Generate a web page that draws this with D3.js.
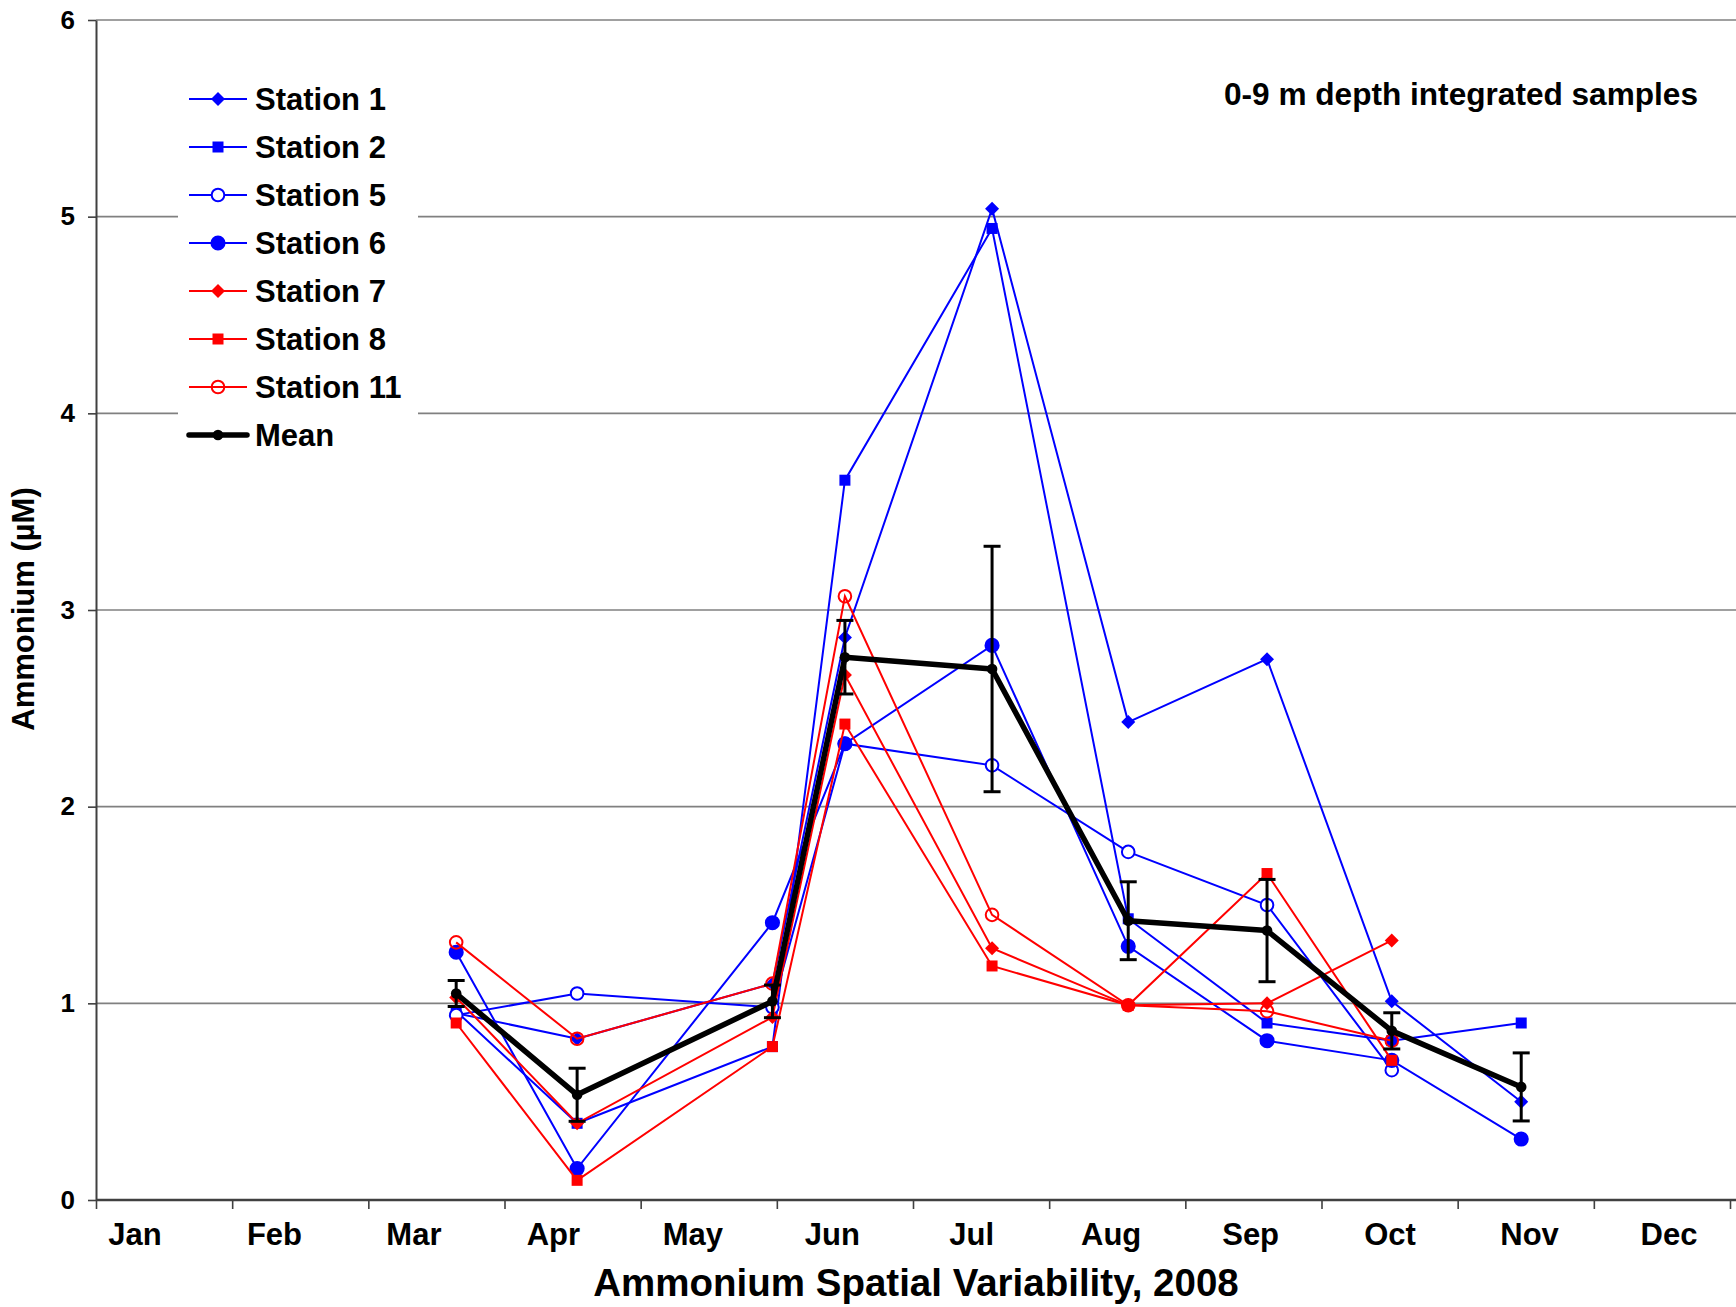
<!DOCTYPE html>
<html>
<head>
<meta charset="utf-8">
<script src="https://cdn.jsdelivr.net/npm/d3@7"></script>
<style>
  html, body { margin: 0; padding: 0; background: #ffffff; }
  svg text { font-family: "Liberation Sans", Arial, Helvetica, sans-serif; font-weight: bold; fill: #000000; }
</style>
</head>
<body>
<svg id="chart" width="1736" height="1307"></svg>
<script>
// ---- Data -------------------------------------------------------------
const monthNames = ["Jan", "Feb", "Mar", "Apr", "May", "Jun", "Jul", "Aug", "Sep", "Oct", "Nov", "Dec"];
const yTicks = [0, 1, 2, 3, 4, 5, 6];

// sampling dates, 2008
const sampleDates = ["2008-03-21", "2008-04-17", "2008-05-31", "2008-06-16", "2008-07-19",
                     "2008-08-19", "2008-09-19", "2008-10-17", "2008-11-15"];

// ammonium (µM), 0-9 m depth integrated
const station1  = [0.95, 0.82, 1.10, 2.86, 5.04, 2.43, 2.75, 1.01, 0.50];
const station2  = [0.96, 0.39, 0.78, 3.66, 4.94, 1.43, 0.90, 0.81, 0.90];
const station5  = [0.94, 1.05, 0.98, 2.32, 2.21, 1.77, 1.50, 0.66, null];
const station6  = [1.26, 0.16, 1.41, 2.32, 2.82, 1.29, 0.81, 0.71, 0.31];
const station7  = [1.03, 0.39, 0.93, 2.67, 1.28, 0.99, 1.00, 1.32, null];
const station8  = [0.90, 0.10, 0.78, 2.42, 1.19, 0.99, 1.66, 0.71, null];
const station11 = [1.31, 0.82, 1.10, 3.07, 1.45, 0.99, 0.96, 0.81, null];
const meanValues = [1.05, 0.535, 1.01, 2.76, 2.70, 1.42, 1.37, 0.86, 0.575];
const meanErrors = [0.066, 0.135, 0.083, 0.187, 0.624, 0.198, 0.26, 0.092, 0.173];

// ---- Helpers ----------------------------------------------------------
// position of a date on a month axis (Jan = 0 ... Dec = 11, each month one unit)
function monthPosition(str) {
  const [yr, mo, dy] = str.split("-").map(Number);
  const days = new Date(yr, mo, 0).getDate();
  return (mo - 1) + (dy - 1) / days;
}
const sampleMonths = sampleDates.map(monthPosition);

const diamondSymbol = {
  draw(ctx, size) {
    const r = Math.sqrt(size / 2);
    ctx.moveTo(0, -r); ctx.lineTo(r, 0); ctx.lineTo(0, r); ctx.lineTo(-r, 0); ctx.closePath();
  }
};

const BLUE = "#0000ff", RED = "#ff0000";
const series = [
  { name: "Station 1",  values: station1,  color: BLUE, type: diamondSymbol,  size: 98,  open: false },
  { name: "Station 2",  values: station2,  color: BLUE, type: d3.symbolSquare, size: 121, open: false },
  { name: "Station 5",  values: station5,  color: BLUE, type: d3.symbolCircle, size: 125, open: "white" },
  { name: "Station 6",  values: station6,  color: BLUE, type: d3.symbolCircle, size: 180, open: false },
  { name: "Station 7",  values: station7,  color: RED,  type: diamondSymbol,  size: 98,  open: false },
  { name: "Station 8",  values: station8,  color: RED,  type: d3.symbolSquare, size: 121, open: false },
  { name: "Station 11", values: station11, color: RED,  type: d3.symbolCircle, size: 125, open: "none" }
];

// ---- Scales -----------------------------------------------------------
const svg = d3.select("#chart");
const x = d3.scaleLinear().domain([0, 12]).range([96, 1730]);
const y = d3.scaleLinear().domain([0, 6]).range([1200, 20]);
const labelX = d3.scalePoint().domain(monthNames).range([135, 1669]);

svg.append("rect").attr("width", 1736).attr("height", 1307).attr("fill", "#ffffff");

// horizontal gridlines
svg.append("g").selectAll("line").data(yTicks.filter(t => t > 0)).join("line")
  .attr("x1", x(0)).attr("x2", 1736)
  .attr("y1", d => y(d)).attr("y2", d => y(d))
  .attr("stroke", "#808080").attr("stroke-width", 1.6);

// legend panel (drawn early so it masks the gridlines behind it)
const legend = svg.append("g");
legend.append("rect").attr("x", 178).attr("y", 62).attr("width", 240).attr("height", 396).attr("fill", "#ffffff");

// y axis
const yAxis = svg.append("g").attr("transform", `translate(${x(0)},0)`)
  .call(d3.axisLeft(y).tickValues(yTicks).tickSize(8).tickSizeOuter(0).tickPadding(13).tickFormat(d3.format("d")));
yAxis.select(".domain").attr("stroke", "#404040").attr("stroke-width", 2);
yAxis.selectAll(".tick line").attr("stroke", "#404040").attr("stroke-width", 1.6);
yAxis.selectAll(".tick text").style("font-size", "26px").attr("fill", "#000");

// x axis: month boundary ticks
const xAxis = svg.append("g").attr("transform", `translate(0,${y(0)})`)
  .call(d3.axisBottom(x).tickValues(d3.range(13)).tickSize(9).tickSizeOuter(0).tickFormat(""));
xAxis.select(".domain").remove();
xAxis.selectAll(".tick line").attr("stroke", "#404040").attr("stroke-width", 1.6);
svg.append("line").attr("x1", x(0)).attr("x2", 1736).attr("y1", y(0)).attr("y2", y(0))
  .attr("stroke", "#404040").attr("stroke-width", 2.5);

// month labels
svg.append("g").selectAll("text").data(monthNames).join("text")
  .attr("x", d => labelX(d)).attr("y", 1245)
  .attr("text-anchor", "middle").style("font-size", "31px")
  .text(d => d);

// axis titles and note
svg.append("text").attr("x", 916).attr("y", 1296).attr("text-anchor", "middle")
  .style("font-size", "38.5px").text("Ammonium Spatial Variability, 2008");
svg.append("text").attr("transform", "translate(34,609) rotate(-90)").attr("text-anchor", "middle")
  .style("font-size", "31px").text("Ammonium (µM)");
svg.append("text").attr("x", 1698).attr("y", 105).attr("text-anchor", "end")
  .style("font-size", "31.6px").text("0-9 m depth integrated samples");

// ---- Station series -----------------------------------------------------
const line = d3.line().defined(d => d.v != null).x(d => x(d.m)).y(d => y(d.v));

function drawMarker(sel, s) {
  sel.attr("d", d3.symbol().type(s.type).size(s.size))
    .attr("fill", s.open ? s.open : s.color)
    .attr("stroke", s.open ? s.color : "none")
    .attr("stroke-width", s.open ? 2 : 0);
}

series.forEach(s => {
  const pts = s.values.map((v, i) => ({ m: sampleMonths[i], v }));
  const g = svg.append("g");
  g.append("path").datum(pts).attr("d", line)
    .attr("fill", "none").attr("stroke", s.color).attr("stroke-width", 2);
  g.selectAll("path.mk").data(pts.filter(p => p.v != null)).join("path")
    .attr("class", "mk")
    .attr("transform", d => `translate(${x(d.m)},${y(d.v)})`)
    .call(drawMarker, s);
});

// ---- Mean with error bars ---------------------------------------------
const meanPts = meanValues.map((v, i) => ({ m: sampleMonths[i], v, e: meanErrors[i] }));
const mg = svg.append("g");
const eb = mg.selectAll("g.eb").data(meanPts).join("g").attr("class", "eb");
eb.append("line")
  .attr("x1", d => x(d.m)).attr("x2", d => x(d.m))
  .attr("y1", d => y(d.v - d.e)).attr("y2", d => y(d.v + d.e))
  .attr("stroke", "#000").attr("stroke-width", 3);
[-1, 1].forEach(sign => {
  eb.append("line")
    .attr("x1", d => x(d.m) - 8.5).attr("x2", d => x(d.m) + 8.5)
    .attr("y1", d => y(d.v + sign * d.e)).attr("y2", d => y(d.v + sign * d.e))
    .attr("stroke", "#000").attr("stroke-width", 3);
});
mg.append("path").datum(meanPts).attr("d", line)
  .attr("fill", "none").attr("stroke", "#000").attr("stroke-width", 5.5).attr("stroke-linejoin", "round");
mg.selectAll("circle").data(meanPts).join("circle")
  .attr("cx", d => x(d.m)).attr("cy", d => y(d.v)).attr("r", 5.3).attr("fill", "#000");

// ---- Legend entries -----------------------------------------------------
const legendItems = series.map(s => s.name).concat(["Mean"]);
const rowY = d3.scalePoint().domain(legendItems).range([99, 435]);
series.forEach(s => {
  const ly = rowY(s.name);
  legend.append("line").attr("x1", 189).attr("x2", 247).attr("y1", ly).attr("y2", ly)
    .attr("stroke", s.color).attr("stroke-width", 2);
  legend.append("path").attr("transform", `translate(218,${ly})`).call(drawMarker, s);
  legend.append("text").attr("x", 255).attr("y", ly + 11).style("font-size", "31px").text(s.name);
});
{
  const ly = rowY("Mean");
  legend.append("line").attr("x1", 189).attr("x2", 247).attr("y1", ly).attr("y2", ly)
    .attr("stroke", "#000").attr("stroke-width", 5.5).attr("stroke-linecap", "round");
  legend.append("circle").attr("cx", 218).attr("cy", ly).attr("r", 5.3).attr("fill", "#000");
  legend.append("text").attr("x", 255).attr("y", ly + 11).style("font-size", "31px").text("Mean");
}
</script>
</body>
</html>
